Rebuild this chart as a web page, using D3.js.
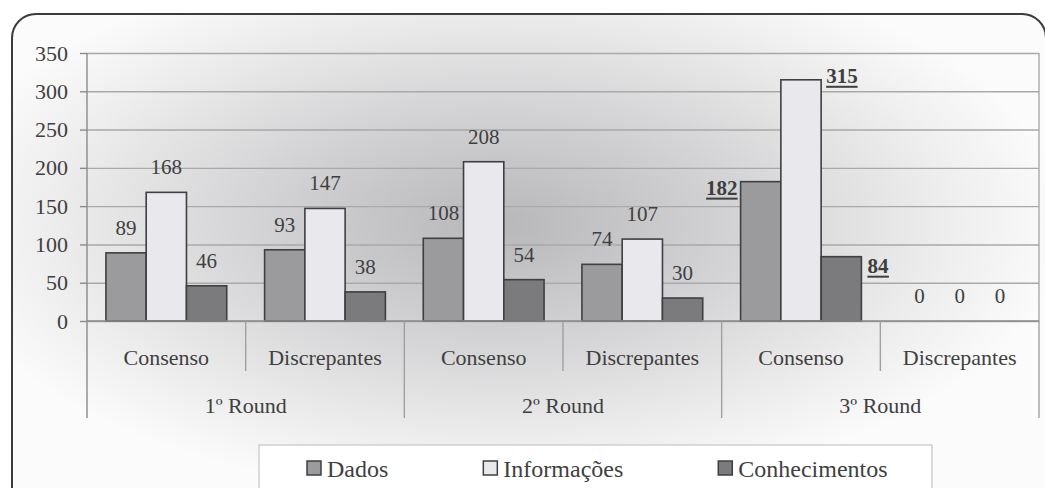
<!DOCTYPE html>
<html><head><meta charset="utf-8">
<script src="https://cdn.jsdelivr.net/npm/d3@7"></script>
<style>
html,body{margin:0;padding:0;background:#fff;}
svg{display:block;}
</style></head>
<body>
<svg id="c" width="1045" height="488"></svg>
<script>
// ---- data ----
const rounds = ["1º Round", "2º Round", "3º Round"];
const subcats = ["Consenso", "Discrepantes"];
const seriesNames = ["Dados", "Informações", "Conhecimentos"];
const dados = [89, 93, 108, 74, 182, 0];
const informacoes = [168, 147, 208, 107, 315, 0];
const conhecimentos = [46, 38, 54, 30, 84, 0];
const yTicks = [0, 50, 100, 150, 200, 250, 300, 350];
const highlighted = [4]; // category index shown bold/underlined

// ---- drawing ----
const FONT = "'Liberation Serif', 'Times New Roman', serif";
const TXT = "#3f3f3f";
const colors = ["#9b9b9d", "#e9e9ed", "#7b7b7d"];
const svg = d3.select("#c").style("font-family", FONT);
const plot = {l: 87, r: 1039, t: 53, b: 321};

const defs = svg.append("defs");
const grad = defs.append("radialGradient").attr("id", "bg")
  .attr("cx", 0.47).attr("cy", 0.42).attr("r", 0.55);
grad.append("stop").attr("offset", "0").attr("stop-color", "#b7b7b9");
grad.append("stop").attr("offset", "0.45").attr("stop-color", "#d5d5d7");
grad.append("stop").attr("offset", "0.8").attr("stop-color", "#eeeeee");
grad.append("stop").attr("offset", "1").attr("stop-color", "#fbfbfb");

// outer frame
svg.append("rect").attr("x", 12).attr("y", 14).attr("width", 1034).attr("height", 500)
  .attr("rx", 24).attr("ry", 24).attr("fill", "url(#bg)")
  .attr("stroke", "#3c3c3c").attr("stroke-width", 2);

const cats = d3.range(dados.length);
const x0 = d3.scaleBand().domain(cats).range([plot.l, plot.r]).padding(0);
const x1 = d3.scaleBand().domain(seriesNames).range([0, x0.bandwidth()]).paddingInner(0).paddingOuter(0.47);
const y = d3.scaleLinear().domain([0, 350]).range([plot.b, plot.t]);
const xr = d3.scaleBand().domain(rounds).range([plot.l, plot.r]).padding(0);

function styleText(sel, size) {
  sel.style("font-size", size + "px").style("font-family", FONT).attr("fill", TXT);
}

// gridlines
const grid = svg.append("g").attr("transform", `translate(${plot.l},0)`)
  .call(d3.axisLeft(y).tickValues(yTicks).tickSize(-(plot.r - plot.l)).tickFormat(""));
grid.select(".domain").remove();
grid.selectAll("line").attr("stroke", "#a9a9a9").attr("stroke-width", 1.4);

// right border of plot
svg.append("line").attr("x1", plot.r).attr("x2", plot.r).attr("y1", plot.t).attr("y2", plot.b)
  .attr("stroke", "#a9a9a9").attr("stroke-width", 1.4);

// y axis
const ya = svg.append("g").attr("transform", `translate(${plot.l},0)`)
  .call(d3.axisLeft(y).tickValues(yTicks).tickSize(7).tickPadding(12));
ya.select(".domain").attr("stroke", "#8a8a8a").attr("stroke-width", 1.4)
  .attr("d", `M0,${plot.t}V${plot.b + 97}`);
ya.selectAll("line").attr("stroke", "#8a8a8a").attr("stroke-width", 1.4);
styleText(ya.selectAll("text"), 22);

// bars
const series = [dados, informacoes, conhecimentos];
const barG = svg.append("g");
series.forEach((vals, si) => {
  barG.selectAll(null).data(vals).enter().append("rect")
    .attr("x", (d, i) => x0(i) + x1(seriesNames[si]))
    .attr("y", d => y(d))
    .attr("width", x1.bandwidth())
    .attr("height", d => y(0) - y(d))
    .attr("fill", colors[si])
    .attr("stroke", d => d > 0 ? "#3f3f41" : "none")
    .attr("stroke-width", 1.6);
});

// x axis baseline
svg.append("line").attr("x1", plot.l).attr("x2", plot.r).attr("y1", plot.b).attr("y2", plot.b)
  .attr("stroke", "#8a8a8a").attr("stroke-width", 1.6);

// data labels
const lab = svg.append("g");
series.forEach((vals, si) => {
  vals.forEach((v, i) => {
    const bx = x0(i) + x1(seriesNames[si]);
    const bw = x1.bandwidth();
    const top = y(v);
    if (highlighted.includes(i)) {
      let tx, ty, anchor;
      if (si === 0) { tx = bx - 3; ty = top + 13; anchor = "end"; }
      else if (si === 1) { tx = bx + bw + 5; ty = top + 3; anchor = "start"; }
      else { tx = bx + bw + 6; ty = top + 16; anchor = "start"; }
      const t = lab.append("text").attr("x", tx).attr("y", ty).attr("text-anchor", anchor)
        .style("font-weight", "bold").text(v);
      styleText(t, 21);
      const bb = t.node().getBBox();
      lab.append("line").attr("x1", bb.x).attr("x2", bb.x + bb.width)
        .attr("y1", ty + 4).attr("y2", ty + 4).attr("stroke", TXT).attr("stroke-width", 2);
    } else {
      const t = lab.append("text").attr("x", bx + bw / 2).attr("y", top - 18).attr("text-anchor", "middle")
        .text(v);
      styleText(t, 21);
    }
  });
});

// category axis (sub-categories)
const xa = svg.append("g").attr("transform", `translate(0,${plot.b})`)
  .call(d3.axisBottom(x0).tickSize(0).tickPadding(28).tickFormat(i => subcats[i % 2]));
xa.select(".domain").remove();
styleText(xa.selectAll("text"), 22);

// round axis
const ra = svg.append("g").attr("transform", `translate(0,${plot.b})`)
  .call(d3.axisBottom(xr).tickSize(0).tickPadding(76));
ra.select(".domain").remove();
styleText(ra.selectAll("text"), 22);

// separators
const sep = svg.append("g").attr("stroke", "#a0a0a0").attr("stroke-width", 1.4);
cats.forEach(i => {
  if (i % 2 === 1) {
    sep.append("line").attr("x1", x0(i)).attr("x2", x0(i)).attr("y1", plot.b).attr("y2", plot.b + 50);
  }
});
rounds.forEach(r => {
  const xx = xr(r) + xr.bandwidth();
  sep.append("line").attr("x1", xx).attr("x2", xx).attr("y1", plot.b).attr("y2", plot.b + 97);
});

// legend
const lg = svg.append("g");
lg.append("rect").attr("x", 259).attr("y", 445).attr("width", 673).attr("height", 60)
  .attr("fill", "#ffffff").attr("stroke", "#cfcfcf").attr("stroke-width", 1.5);
const itemsG = lg.append("g");
let cx = 0;
const gap = 95;
seriesNames.forEach((n, si) => {
  const g = itemsG.append("g").attr("transform", `translate(${cx},0)`);
  g.append("rect").attr("x", 0).attr("y", 461).attr("width", 14).attr("height", 14)
    .attr("fill", colors[si]).attr("stroke", "#3f3f41").attr("stroke-width", 1.5);
  const t = g.append("text").attr("x", 20).attr("y", 477).text(n);
  styleText(t, 24);
  cx += 20 + t.node().getComputedTextLength() + gap;
});
itemsG.attr("transform", "translate(307,0)");
</script>
</body></html>
